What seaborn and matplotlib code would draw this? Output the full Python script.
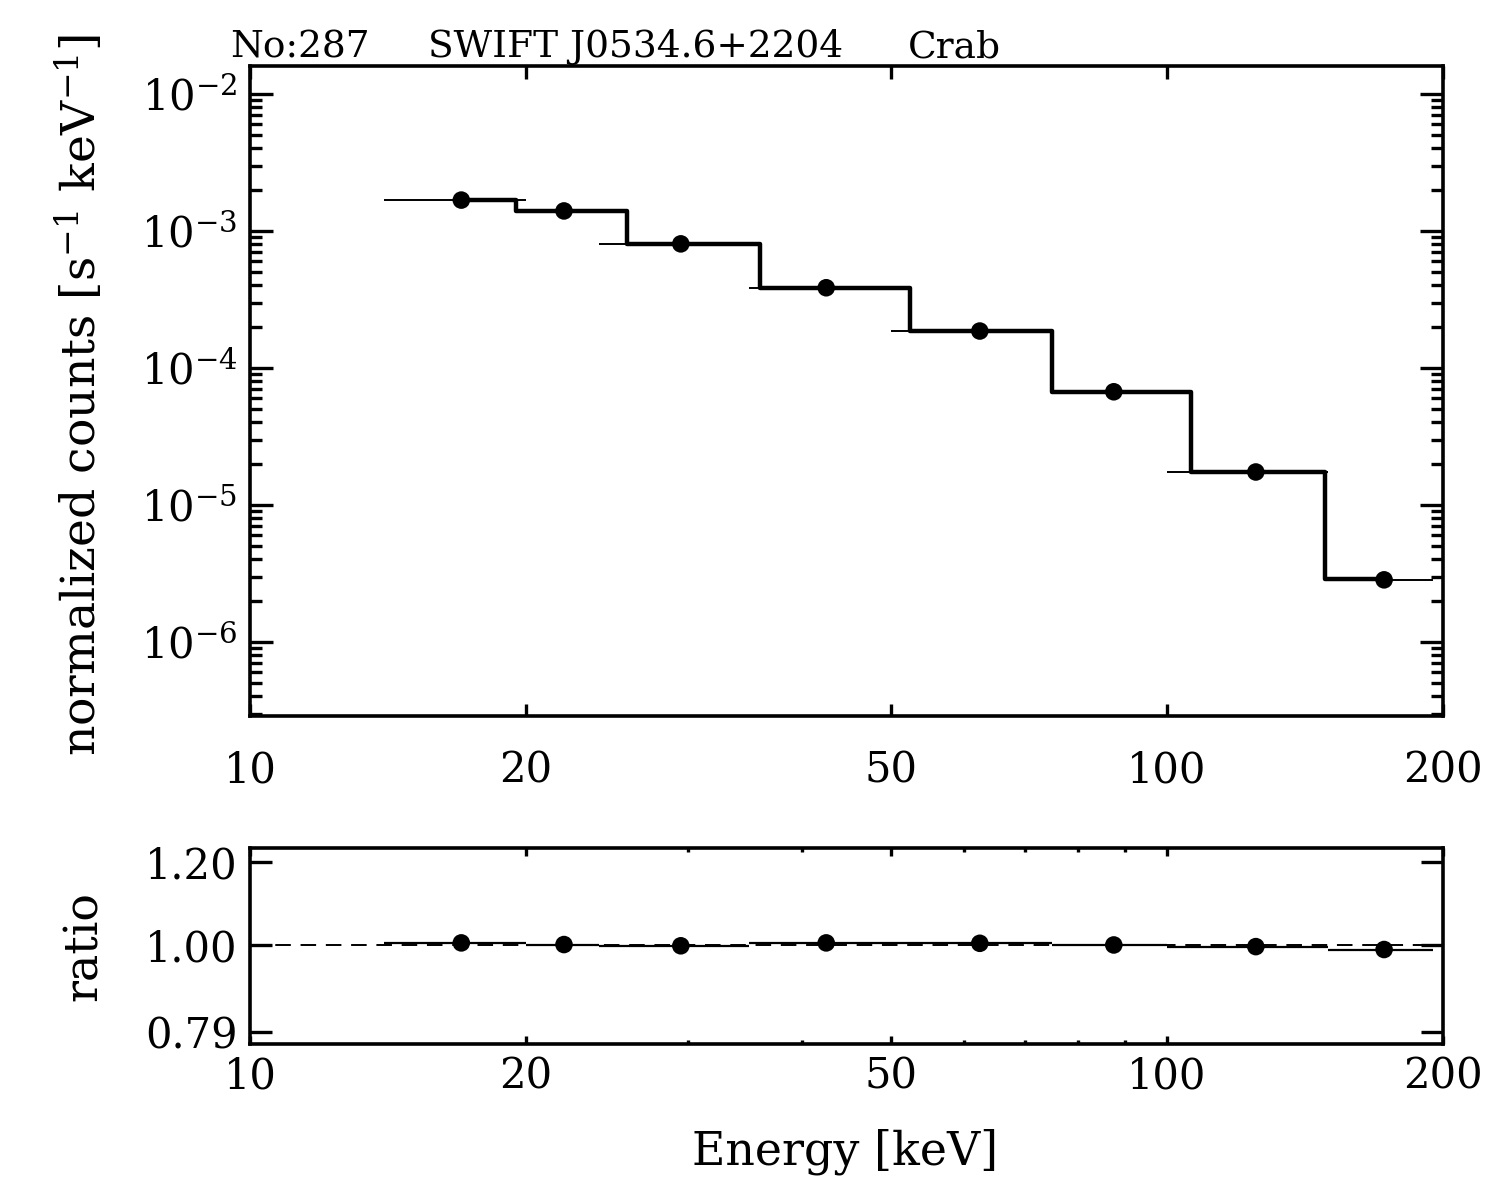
import numpy as np
import pandas as pd
import matplotlib
matplotlib.use("Agg")
import matplotlib.pyplot as plt
import seaborn as sns
from matplotlib.ticker import FixedLocator, FixedFormatter, NullLocator, LogLocator, NullFormatter

# ---------------- data ----------------
bin_lo = [14.0, 20.0, 24.0, 35.0, 50.0, 75.0, 100.0, 150.0]
bin_hi = [20.0, 24.0, 35.0, 50.0, 75.0, 100.0, 150.0, 195.0]
energy = [17.0, 22.0, 29.5, 42.5, 62.5, 87.5, 125.0, 172.5]
counts = [1.68e-3, 1.40e-3, 8.05e-4, 3.85e-4, 1.86e-4, 6.7e-5, 1.74e-5, 2.84e-6]
model = [1.67e-3, 1.40e-3, 8.07e-4, 3.83e-4, 1.85e-4, 6.7e-5, 1.75e-5, 2.87e-6]
ratio = [1.005, 1.001, 0.998, 1.005, 1.004, 1.000, 0.996, 0.989]

xticks = [10, 20, 50, 100, 200]
xticklabels = ["10", "20", "50", "100", "200"]
xminor_ratio = [30, 40, 60, 70, 80, 90]
ratio_ticks = [0.79, 1.00, 1.20]
ratio_ticklabels = ["0.79", "1.00", "1.20"]

df = pd.DataFrame(dict(energy=energy, counts=counts, model=model, ratio=ratio,
                       lo=bin_lo, hi=bin_hi))

# ---------------- style ----------------
sns.set_theme(style="ticks")
plt.rcParams["font.family"] = ["DejaVu Serif"]
plt.rcParams["mathtext.fontset"] = "dejavuserif"
plt.rcParams["axes.linewidth"] = 2.6
plt.rcParams["axes.edgecolor"] = "black"
plt.rcParams["text.color"] = "black"
plt.rcParams["axes.labelcolor"] = "black"
plt.rcParams["xtick.color"] = "black"
plt.rcParams["ytick.color"] = "black"

W, H = 1490, 1179
fig = plt.figure(figsize=(W / 100, H / 100), dpi=100)
fig.patch.set_facecolor("white")

def axbox(l, t, r, b):
    return [l / W, 1 - b / H, (r - l) / W, (b - t) / H]

ax1 = fig.add_axes(axbox(250, 66, 1443, 716))
ax2 = fig.add_axes(axbox(250, 848, 1443, 1044))

# ---------------- top panel ----------------
ax1.set_xscale("log")
ax1.set_yscale("log")
xerr = [df.energy - df.lo, df.hi - df.energy]
ax1.errorbar(df.energy, df.counts, xerr=xerr, fmt="none", ecolor="black",
             elinewidth=1.4, capsize=0, zorder=2)
sns.lineplot(data=df, x="energy", y="model", ax=ax1, color="black", lw=3.2,
             drawstyle="steps-mid", estimator=None, sort=False, zorder=3)
sns.scatterplot(data=df, x="energy", y="counts", ax=ax1, color="black",
                s=160, edgecolor="none", zorder=4)
ax1.set_xlim(10, 200)
ax1.set_ylim(2.88e-7, 1.6e-2)
ax1.xaxis.set_major_locator(FixedLocator(xticks))
ax1.xaxis.set_major_formatter(FixedFormatter(xticklabels))
ax1.xaxis.set_minor_locator(NullLocator())
ax1.yaxis.set_major_locator(LogLocator(base=10, numticks=20))
ax1.yaxis.set_minor_locator(LogLocator(base=10, subs=np.arange(2, 10), numticks=20))
ax1.yaxis.set_minor_formatter(NullFormatter())
ax1.tick_params(which="both", direction="in", top=True, right=True,
                width=2.4, color="black", labelcolor="black")
ax1.tick_params(axis="x", which="major", length=9, pad=24, labelsize=30)
ax1.tick_params(axis="y", which="major", length=16.5, pad=9, labelsize=30)
ax1.tick_params(axis="y", which="minor", length=8.5)
ax1.set_xlabel("")
ax1.set_ylabel("")

# ---------------- ratio panel ----------------
ax2.set_xscale("log")
ax2.axhline(1.0, color="black", lw=1.4, ls=(0, (8, 5)), zorder=1)
ax2.errorbar(df.energy, df.ratio, xerr=xerr, fmt="none", ecolor="black",
             elinewidth=1.6, capsize=0, zorder=2)
sns.scatterplot(data=df, x="energy", y="ratio", ax=ax2, color="black",
                s=160, edgecolor="none", zorder=4)
ax2.set_xlim(10, 200)
ax2.set_ylim(0.761, 1.234)
ax2.xaxis.set_major_locator(FixedLocator(xticks))
ax2.xaxis.set_major_formatter(FixedFormatter(xticklabels))
ax2.xaxis.set_minor_locator(FixedLocator(xminor_ratio))
ax2.xaxis.set_minor_formatter(NullFormatter())
ax2.yaxis.set_major_locator(FixedLocator(ratio_ticks))
ax2.yaxis.set_major_formatter(FixedFormatter(ratio_ticklabels))
ax2.yaxis.set_minor_locator(NullLocator())
ax2.tick_params(which="both", direction="in", top=True, right=True,
                width=2.4, color="black", labelcolor="black")
ax2.tick_params(axis="x", which="major", length=6, pad=8, labelsize=30)
ax2.tick_params(axis="x", which="minor", length=3)
ax2.tick_params(axis="y", which="major", length=16, pad=9, labelsize=30)
ax2.set_xlabel("")
ax2.set_ylabel("")

for ax in (ax1, ax2):
    ax.set_facecolor("white")
    for sp in ax.spines.values():
        sp.set_visible(True)
        sp.set_color("black")
        sp.set_linewidth(2.6)

# ---------------- texts ----------------
fig.text(230 / W, 1 - 57 / H, "No:287", fontsize=27, va="baseline", ha="left", color="black")
fig.text(428 / W, 1 - 57 / H, "SWIFT J0534.6+2204", fontsize=27, va="baseline", ha="left", color="black")
fig.text(908 / W, 1 - 57 / H, "Crab", fontsize=27, va="baseline", ha="left", color="black")

fig.text(80 / W, 1 - 395 / H, r"normalized counts [s$^{-1}$ keV$^{-1}$]",
         fontsize=34, rotation=90, ha="center", va="center", color="black")
fig.text(84 / W, 1 - 946 / H, "ratio", fontsize=33, rotation=90,
         ha="center", va="center", color="black")
fig.text(845 / W, 1 - 1152 / H, "Energy [keV]", fontsize=33,
         ha="center", va="center", color="black")

fig.savefig("out.png", dpi=100, facecolor="white")
